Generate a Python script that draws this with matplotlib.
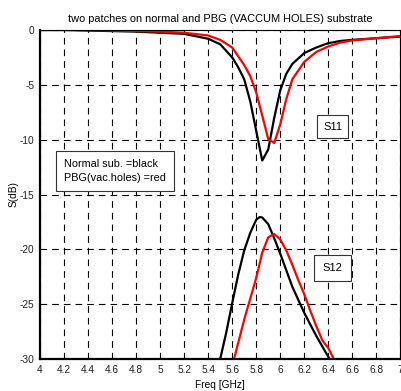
import numpy as np
import matplotlib.pyplot as plt

plt.rcParams['font.family'] = ['Liberation Sans', 'DejaVu Sans']

# S11, normal substrate (black)
f_s11_n = [4.0, 4.2, 4.4, 4.6, 4.8, 5.0, 5.2, 5.4, 5.5, 5.6, 5.65, 5.7, 5.75,
           5.8, 5.85, 5.9, 5.95, 6.0, 6.05, 6.1, 6.2, 6.3, 6.4, 6.5, 6.6, 6.8, 7.0]
s11_n = [0, 0, -0.05, -0.1, -0.15, -0.25, -0.35, -0.8, -1.3, -2.5, -3.4, -4.5, -6.5,
         -9.2, -11.9, -10.9, -8.0, -5.5, -4.0, -3.1, -2.1, -1.6, -1.2, -1.0, -0.9, -0.75, -0.6]

# S11, PBG vacuum holes (red)
f_s11_p = [4.0, 4.4, 4.8, 5.0, 5.2, 5.4, 5.5, 5.6, 5.7, 5.75, 5.8, 5.85, 5.9, 5.95,
           6.0, 6.05, 6.1, 6.2, 6.3, 6.4, 6.5, 6.6, 6.8, 7.0]
s11_p = [0, 0, -0.1, -0.15, -0.25, -0.5, -0.9, -1.6, -3.2, -4.2, -5.7, -7.8, -9.95, -10.3,
         -8.6, -6.3, -4.5, -2.9, -2.0, -1.5, -1.15, -0.95, -0.75, -0.55]

# S12, normal substrate (black)
f_s12_n = [5.45, 5.5, 5.55, 5.6, 5.65, 5.7, 5.75, 5.8, 5.83, 5.85, 5.9, 5.95, 6.0,
           6.05, 6.1, 6.15, 6.2, 6.3, 6.4, 6.45]
s12_n = [-32, -30, -27.6, -24.9, -22.3, -20.1, -18.5, -17.3, -17.05, -17.1, -17.7, -19.0, -20.4,
         -21.9, -23.4, -24.6, -25.8, -27.9, -29.8, -30.7]

# S12, PBG vacuum holes (red)
f_s12_p = [5.6, 5.62, 5.7, 5.8, 5.85, 5.9, 5.95, 6.0, 6.05, 6.1, 6.15, 6.2, 6.25,
           6.3, 6.35, 6.4, 6.45]
s12_p = [-31, -29.8, -26.4, -22.6, -20.3, -18.9, -18.6, -19.1, -20.1, -21.4, -22.8, -24.1, -25.6,
         -27.0, -28.3, -29.0, -30.1]

xticks = np.arange(4, 7.01, 0.2)
xlabels = ["4", "4.2", "4.4", "4.6", "4.8", "5", "5.2", "5.4", "5.6", "5.8",
           "6", "6.2", "6.4", "6.6", "6.8", "7"]

fig = plt.figure(figsize=(4.02, 3.91), dpi=100)
ax = fig.add_axes([0.0995, 0.0818, 0.8965, 0.8415])

ax.plot(f_s11_n, s11_n, color="black", lw=1.6)
ax.plot(f_s11_p, s11_p, color="red", lw=1.6)
ax.plot(f_s12_n, s12_n, color="black", lw=1.6)
ax.plot(f_s12_p, s12_p, color="red", lw=1.6)

ax.set_xlim(4, 7)
ax.set_ylim(-30, 0)
ax.set_xticks(xticks)
ax.set_xticklabels(xlabels)
ax.set_yticks([-30, -25, -20, -15, -10, -5, 0])
ax.set_yticklabels(["-30", "-25", "-20", "-15", "-10", "-5", "0"])
ax.tick_params(labelsize=7.3, length=0, pad=4, colors="#222222")
ax.grid(True, color="black", lw=0.8, linestyle=(0, (6, 4.5)))
ax.set_axisbelow(True)

for s in ["left", "bottom"]:
    ax.spines[s].set_linewidth(1.6)
for s in ["top", "right"]:
    ax.spines[s].set_linewidth(0.8)

ax.set_title("two patches on normal and PBG (VACCUM HOLES) substrate", fontsize=7.9, pad=6)
ax.set_xlabel("Freq [GHz]", fontsize=7.3, labelpad=4)
ax.set_ylabel("S(dB)", fontsize=7.3, labelpad=1)

ax.text(6.435, -8.8, "S11", fontsize=8, ha="center", va="center",
        bbox=dict(boxstyle="square,pad=0.55", fc="white", ec="#333333", lw=0.8))
ax.text(6.435, -21.7, "S12", fontsize=8, ha="center", va="center",
        bbox=dict(boxstyle="square,pad=0.75", fc="white", ec="#333333", lw=0.8))
ax.text(4.2, -12.85, "Normal sub. =black\nPBG(vac.holes) =red", fontsize=7.8,
        ha="left", va="center", linespacing=1.45,
        bbox=dict(boxstyle="square,pad=0.75", fc="white", ec="#333333", lw=0.8))

fig.savefig("out.png", dpi=100)
